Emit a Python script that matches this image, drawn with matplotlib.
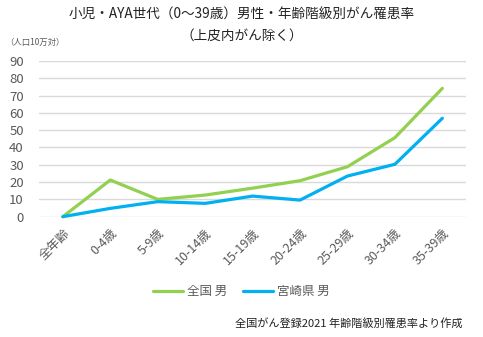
import matplotlib
matplotlib.use("Agg")
import matplotlib.pyplot as plt

plt.rcParams["font.family"] = ["Noto Sans CJK JP", "DejaVu Sans"]

# rates per 100k, male, by age band
age_groups = ["全年齢", "0-4歳", "5-9歳", "10-14歳", "15-19歳",
              "20-24歳", "25-29歳", "30-34歳", "35-39歳"]
national_male = [0, 21.2, 10.0, 12.5, 16.5, 20.8, 28.9, 45.7, 74.2]
miyazaki_male = [0, 4.8, 8.7, 7.7, 11.9, 9.6, 23.5, 30.3, 56.9]
y_ticks = [0, 10, 20, 30, 40, 50, 60, 70, 80, 90]

GREEN = "#92d050"
BLUE = "#00b0f0"
TXT = "#595959"

fig = plt.figure(figsize=(4.83, 3.37), dpi=100)
ax = fig.add_axes([0.081, 0.357, 0.884, 0.462])

x = range(len(age_groups))
ax.plot(x, national_male, color=GREEN, lw=2.3, label="全国 男",
        solid_capstyle="round", clip_on=False, zorder=3)
ax.plot(x, miyazaki_male, color=BLUE, lw=2.3, label="宮崎県 男",
        solid_capstyle="round", clip_on=False, zorder=4)

ax.set_xlim(-0.5, len(age_groups) - 0.5)
ax.set_ylim(0, 90)
ax.set_yticks(y_ticks)
ax.set_xticks(list(x))
ax.set_xticklabels(age_groups, rotation=45, ha="right", rotation_mode="anchor",
                   fontsize=9, color=TXT)
ax.tick_params(axis="y", labelsize=9.5, colors=TXT, length=0, pad=11)
ax.tick_params(axis="x", length=0, pad=7)
ax.grid(axis="y", color="#d9d9d9", lw=1)
ax.set_axisbelow(True)
for s in ax.spines.values():
    s.set_visible(False)

fig.text(0.5, 0.955, "小児・AYA世代（0～39歳）男性・年齢階級別がん罹患率",
         ha="center", va="center", fontsize=9.8, color="#222222")
fig.text(0.5, 0.895, "（上皮内がん除く）", ha="center", va="center",
         fontsize=9.8, color="#222222")
fig.text(0.01, 0.875, "（人口10万対）", ha="left", va="center",
         fontsize=6, color=TXT)

ax.legend(loc="center", bbox_to_anchor=(0.5, 0.135), bbox_transform=fig.transFigure,
          ncol=2, frameon=False, fontsize=9, handlelength=2.4, handletextpad=0.3,
          columnspacing=1.3, labelcolor=TXT)

fig.text(0.958, 0.04, "全国がん登録2021 年齢階級別罹患率より作成", ha="right",
         va="center", fontsize=8, color="#222222")

fig.savefig("out.png", dpi=100, facecolor="white")
